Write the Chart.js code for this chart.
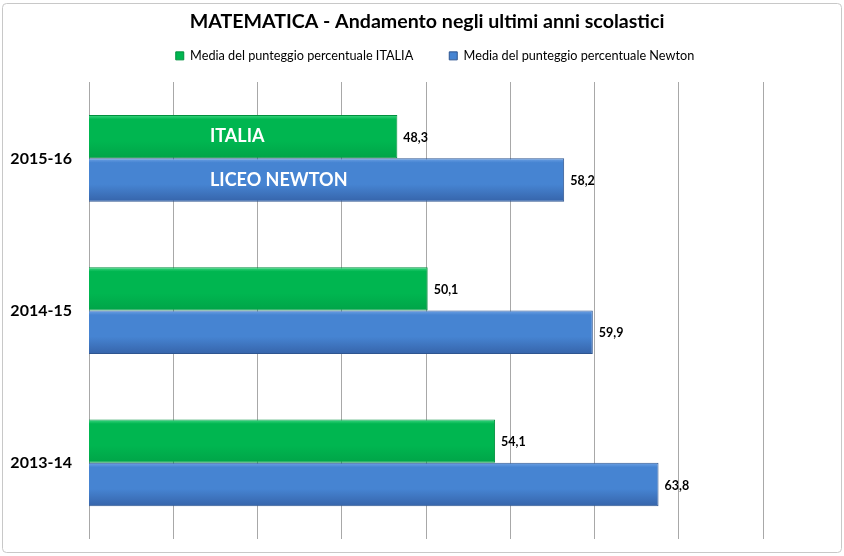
<!DOCTYPE html>
<html>
<head>
<meta charset="utf-8">
<script src="https://cdn.jsdelivr.net/npm/chart.js@4"></script>
<style>
  html, body { margin: 0; padding: 0; background: #fff; }
  #wrap { width: 844px; height: 556px; }
</style>
</head>
<body>
<div id="wrap"><canvas id="barChart" width="844" height="556"></canvas></div>
<script>
const years = ["2015-16", "2014-15", "2013-14"];
const italia = [48.3, 50.1, 54.1];
const newton = [58.2, 59.9, 63.8];
const seriesNames = ["Media del punteggio percentuale ITALIA", "Media del punteggio percentuale Newton"];
const barNames = ["ITALIA", "LICEO NEWTON"];

const FONT = "Lato, 'Open Sans', sans-serif";
const catPct = 0.57;

// colours for each series: top, middle, bottom of the gradient, edge
const palette = [
  { top: '#40d884', mid: '#00b650', bot: '#00a448', edge: '#00903e' },
  { top: '#6ea2e4', mid: '#4684d2', bot: '#3664aa', edge: '#2e5590' }
];

function barFill(context) {
  const chart = context.chart;
  const pal = palette[context.datasetIndex];
  const y = chart.scales.y;
  if (!chart.chartArea || !y) return pal.mid;
  const center = y.getPixelForValue(context.dataIndex);
  const step = Math.abs(y.getPixelForValue(1) - y.getPixelForValue(0));
  const half = step * catPct / 2;
  const top = context.datasetIndex === 0 ? center - half : center;
  const bottom = top + half;
  const g = chart.ctx.createLinearGradient(0, top, 0, bottom);
  g.addColorStop(0, pal.top);
  g.addColorStop(0.1, pal.mid);
  g.addColorStop(0.6, pal.mid);
  g.addColorStop(1, pal.bot);
  return g;
}

const frame = {
  id: 'frame',
  afterLayout(chart) {
    // the original centres title and legend a little to the right
    chart.titleBlock.left += 5;
    chart.titleBlock.right += 5;
    chart.legend.left += 13;
    chart.legend.right += 13;
  },
  beforeDraw(chart) {
    const c = chart.ctx;
    c.save();
    c.fillStyle = '#fff';
    c.fillRect(0, 0, chart.width, chart.height);
    c.strokeStyle = '#c8c8c8';
    c.lineWidth = 1;
    c.beginPath();
    c.roundRect(2.5, 3.5, chart.width - 5, chart.height - 7, 4);
    c.stroke();
    c.restore();
  }
};

const labels = {
  id: 'labels',
  afterDatasetsDraw(chart) {
    const c = chart.ctx;
    const left = chart.chartArea.left;
    c.save();
    c.textBaseline = 'middle';
    chart.data.datasets.forEach((ds, di) => {
      chart.getDatasetMeta(di).data.forEach((bar, i) => {
        c.fillStyle = '#000';
        c.textAlign = 'left';
        c.font = "bold 12.5px " + FONT;
        c.fillText(ds.data[i].toFixed(1).replace('.', ','), bar.x + 6, bar.y + 1);
        if (i === 0) {
          c.fillStyle = '#fff';
          c.font = "bold 18px " + FONT;
          c.fillText(barNames[di], left + 121, bar.y);
        }
      });
    });
    c.restore();
  }
};

const ctx = document.getElementById('barChart').getContext('2d');

const data = {
  labels: years,
  datasets: [
    {
      label: seriesNames[0],
      data: italia,
      backgroundColor: barFill,
      borderColor: palette[0].edge,
      borderWidth: 1,
      categoryPercentage: catPct,
      barPercentage: 1
    },
    {
      label: seriesNames[1],
      data: newton,
      backgroundColor: barFill,
      borderColor: palette[1].edge,
      borderWidth: 1,
      categoryPercentage: catPct,
      barPercentage: 1
    }
  ]
};

const options = {
  indexAxis: 'y',
  responsive: false,
  animation: false,
  layout: { padding: { left: 0, right: 0, top: 0, bottom: 17 } },
  scales: {
    x: {
      position: 'top',
      min: 30,
      max: 70,
      ticks: { display: false, stepSize: 5 },
      grid: { color: '#a8a8a8', drawTicks: false },
      border: { display: false },
      afterFit(scale) { scale.height = 10; }
    },
    y: {
      ticks: { color: '#000', padding: 17, font: { family: FONT, size: 16, weight: 'bold' } },
      grid: { display: false, drawTicks: false },
      border: { display: false },
      afterFit(scale) {
        scale.width = 89;
        scale.paddingTop = 0;
        scale.paddingBottom = 0;
      }
    },
    // empty strip on the right, keeps the plot at the same place as the original
    right: {
      axis: 'y',
      position: 'right',
      display: true,
      ticks: { display: false },
      grid: { display: false, drawTicks: false },
      border: { display: false },
      afterFit(scale) { scale.width = 81; }
    }
  },
  plugins: {
    title: {
      display: true,
      text: 'MATEMATICA - Andamento negli ultimi anni scolastici',
      color: '#000',
      font: { family: FONT, size: 19.6, weight: 'bold' },
      padding: { top: 10, bottom: -20 }
    },
    legend: {
      display: true,
      position: 'top',
      labels: {
        color: '#000',
        boxWidth: 8,
        boxHeight: 8,
        padding: 36,
        font: { family: FONT, size: 12.7 },
        generateLabels(chart) {
          return chart.data.datasets.map((ds, i) => ({
            text: ds.label,
            fillStyle: palette[i].mid,
            strokeStyle: palette[i].edge,
            lineWidth: 1,
            datasetIndex: i
          }));
        }
      }
    },
    tooltip: { enabled: false }
  }
};

const barChart = new Chart(ctx, {
  type: 'bar',
  data: data,
  options: options,
  plugins: [frame, labels]
});
</script>
</body>
</html>
